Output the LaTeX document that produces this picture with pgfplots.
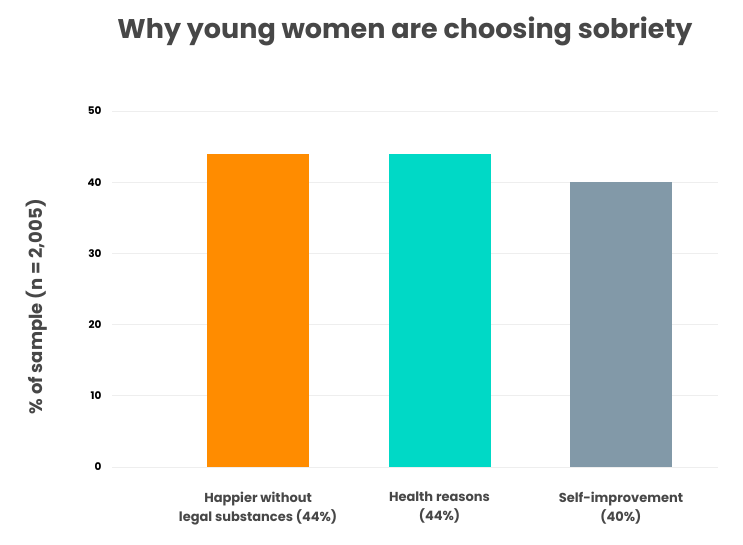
\documentclass[border=0pt]{standalone}
\usepackage{pgfplots}
\pgfplotsset{compat=1.18}
\usepackage{fontspec}
\setmainfont{Poppins}
\definecolor{cOrange}{HTML}{FF8C00}
\definecolor{cTeal}{HTML}{00D9C6}
\definecolor{cSlate}{HTML}{8299A8}
\definecolor{cText}{HTML}{474747}
\definecolor{cGrid}{HTML}{EEEEEE}
\begin{document}
\begin{tikzpicture}[x=1pt,y=1pt]
\useasboundingbox (0,0) rectangle (743,544);
\node[font=\fontsize{27}{32}\selectfont\bfseries, text=cText] at (405,513) {Why young women are choosing sobriety};
\begin{axis}[
  at={(112pt,77pt)}, anchor=south west,
  scale only axis, width=606pt, height=356pt,
  xmin=-0.805, xmax=2.535, ymin=0, ymax=50,
  ytick={0,10,20,30,40,50},
  xtick={0,1,2},
  xticklabels={{Happier without\\legal substances (44\%)},{Health reasons\\(44\%)},{Self-improvement\\(40\%)}},
  xticklabel style={align=center, font=\fontsize{13}{19}\selectfont\bfseries, text=cText, yshift=-17pt},
  yticklabel style={font=\fontsize{10.5}{12}\selectfont\bfseries, text=black, xshift=-7pt},
  /pgf/number format/assume math mode=true,
  ymajorgrids, grid style={cGrid, line width=0.8pt},
  axis line style={draw=none},
  major tick style={draw=none},
  ylabel={\% of sample (n = 2,005)},
  every axis y label/.style={at={(axis description cs:-0.124,0.45)}, rotate=90, anchor=center, font=\fontsize{18}{22}\selectfont\bfseries, text=cText},
  ybar, bar width=102pt, bar shift=0pt,
]
\addplot[fill=cOrange, draw=none] coordinates {(0,44)};
\addplot[fill=cTeal, draw=none] coordinates {(1,44)};
\addplot[fill=cSlate, draw=none] coordinates {(2,40)};
\end{axis}
\end{tikzpicture}
\end{document}
